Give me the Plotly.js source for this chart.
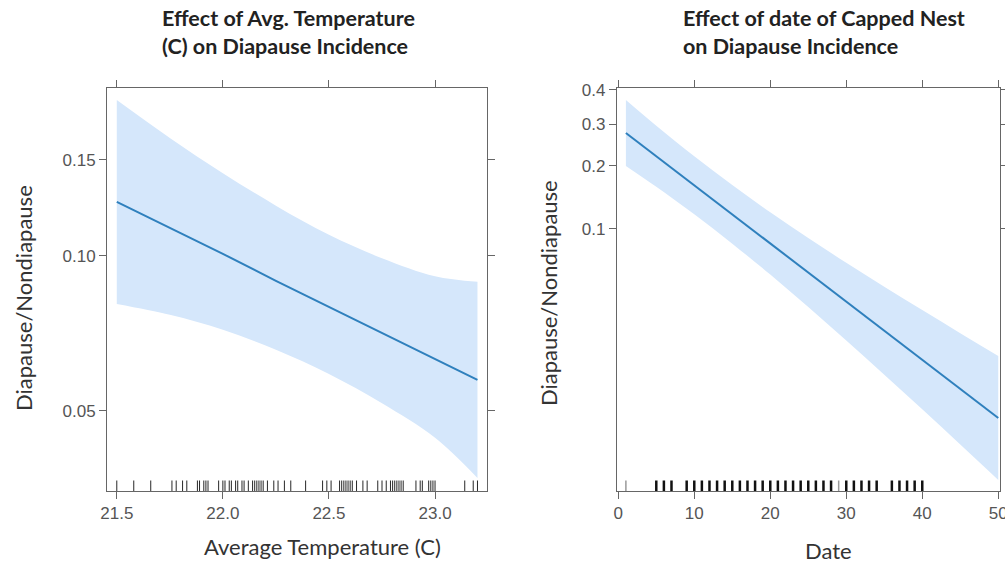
<!DOCTYPE html>
<html>
<head>
<meta charset="utf-8">
<script src="https://cdn.plot.ly/plotly-3.0.1.min.js"></script>
<style>html,body{margin:0;padding:0;background:#fff;}#chart{width:1005px;height:565px;}</style>
</head>
<body>
<div id="chart"></div>
<script>
// ---- Data ----
const tempX     = [21.5, 21.75, 22.0, 22.25, 22.5, 22.75, 23.0, 23.2];
const tempFit   = [0.126, 0.1128, 0.1009, 0.0897, 0.0800, 0.0712, 0.0634, 0.0576];
const tempUpper = [0.1906, 0.1640, 0.1420, 0.1240, 0.1095, 0.0990, 0.0915, 0.0893];
const tempLower = [0.0810, 0.0772, 0.0722, 0.0660, 0.0592, 0.0518, 0.0442, 0.0367];

const dateX     = [1, 5, 10, 15, 20, 25, 30, 35, 40, 45, 50];
const dateFit   = [0.2768, 0.2208, 0.1631, 0.1181, 0.0842, 0.0594, 0.0416, 0.0290, 0.0201, 0.0139, 0.00959];
const dateUpper = [0.3695, 0.2960, 0.2210, 0.1635, 0.1208, 0.0898, 0.0669, 0.0500, 0.0375, 0.0281, 0.0211];
const dateLower = [0.2000, 0.1603, 0.1181, 0.0840, 0.0580, 0.0389, 0.0256, 0.0166, 0.0107, 0.00682, 0.00433];

const rugTemp = [21.5, 21.58, 21.66, 21.76, 21.78, 21.81, 21.83, 21.88, 21.89, 21.91, 21.92, 21.93,
  21.98, 22.0, 22.01, 22.03, 22.04, 22.06, 22.07, 22.09, 22.1, 22.12, 22.14, 22.15, 22.16, 22.17,
  22.18, 22.19, 22.21, 22.24, 22.26, 22.29, 22.32, 22.39, 22.47, 22.49, 22.51, 22.55, 22.56, 22.57,
  22.58, 22.59, 22.6, 22.61, 22.63, 22.66, 22.68, 22.73, 22.75, 22.77, 22.79, 22.8, 22.81, 22.82,
  22.83, 22.84, 22.85, 22.91, 22.93, 22.94, 22.97, 22.98, 22.99, 23.0, 23.14, 23.18, 23.2];
const rugDate = [5, 6, 7, 9, 10, 11, 12, 13, 14, 15, 16, 17, 18, 19, 20, 21, 22, 23, 24, 25, 26, 27, 28,
  30, 31, 32, 33, 34, 36, 37, 38, 39, 40];
const rugDateFaint = [1, 29];

const tempTickVals = [0.05, 0.10, 0.15];
const tempTickText = ['0.05', '0.10', '0.15'];
const dateTickVals = [0.1, 0.2, 0.3, 0.4];
const dateTickText = ['0.1', '0.2', '0.3', '0.4'];
const tempXTicks = [21.5, 22.0, 22.5, 23.0];
const tempXTickText = ['21.5', '22.0', '22.5', '23.0'];
const dateXTicks = [0, 10, 20, 30, 40, 50];

const titleLeft = 'Effect of Avg. Temperature<br>(C) on Diapause Incidence';
const titleRight = 'Effect of date of Capped Nest<br>on Diapause Incidence';
const xTitleLeft = 'Average Temperature (C)';
const xTitleRight = 'Date';
const yTitle = 'Diapause/Nondiapause';

// ---- helpers ----
const logit = p => Math.log(p / (1 - p));
const L = arr => arr.map(logit);

const bandColor = 'rgb(213,231,251)';
const lineColor = 'rgb(47,128,189)';
const axisColor = '#666';
const tickFont = {family: 'Liberation Sans, Arial, sans-serif', size: 17, color: '#555'};
const textFont = {family: 'Lato, Carlito, sans-serif', size: 22, color: '#333'};

function band(xs, up, lo, xa, ya) {
  return [
    {x: xs, y: L(up), xaxis: xa, yaxis: ya, type: 'scatter', mode: 'lines',
     line: {width: 0, color: bandColor, shape: 'spline'}, hoverinfo: 'skip'},
    {x: xs, y: L(lo), xaxis: xa, yaxis: ya, type: 'scatter', mode: 'lines', fill: 'tonexty',
     fillcolor: bandColor, line: {width: 0, color: bandColor, shape: 'spline'}, hoverinfo: 'skip'}
  ];
}

const traces = [].concat(
  band(tempX, tempUpper, tempLower, 'x', 'y'),
  [{x: tempX, y: L(tempFit), xaxis: 'x', yaxis: 'y', type: 'scatter', mode: 'lines',
    line: {color: lineColor, width: 2}}],
  band(dateX, dateUpper, dateLower, 'x2', 'y2'),
  [{x: dateX, y: L(dateFit), xaxis: 'x2', yaxis: 'y2', type: 'scatter', mode: 'lines',
    line: {color: lineColor, width: 2}}]
);

const shapes = [];
rugTemp.forEach(v => shapes.push({type: 'line', xref: 'x', yref: 'y domain', x0: v, x1: v, y0: 0, y1: 0.026,
  line: {color: 'rgba(0,0,0,0.85)', width: 1}}));
rugDate.forEach(v => shapes.push({type: 'line', xref: 'x2', yref: 'y2 domain', x0: v, x1: v, y0: 0, y1: 0.026,
  line: {color: '#111', width: 2.5}}));
rugDateFaint.forEach(v => shapes.push({type: 'line', xref: 'x2', yref: 'y2 domain', x0: v, x1: v, y0: 0, y1: 0.026,
  line: {color: '#999', width: 1.5}}));

const axisCommon = {showline: true, linecolor: axisColor, linewidth: 1, mirror: 'ticks',
  ticks: 'outside', ticklen: 7, tickcolor: axisColor, tickwidth: 1, showgrid: false, zeroline: false,
  tickfont: tickFont, fixedrange: true, ticklabeloverflow: 'allow'};

const layout = {
  width: 1005, height: 565, paper_bgcolor: '#fff', plot_bgcolor: '#fff',
  margin: {l: 0, r: 0, t: 0, b: 0}, showlegend: false,
  xaxis: Object.assign({}, axisCommon, {domain: [0.1065, 0.4846], range: [21.454, 23.245],
    tickvals: tempXTicks, ticktext: tempXTickText, anchor: 'y'}),
  yaxis: Object.assign({}, axisCommon, {domain: [0.131, 0.8443], range: [-3.33, -1.388],
    tickvals: L(tempTickVals), ticktext: tempTickText, anchor: 'x'}),
  xaxis2: Object.assign({}, axisCommon, {domain: [0.6137, 0.9948], range: [-0.2, 50.2],
    tickvals: dateXTicks, anchor: 'y2'}),
  yaxis2: Object.assign({}, axisCommon, {domain: [0.131, 0.8443], range: [-5.58, -0.38],
    tickvals: L(dateTickVals), ticktext: dateTickText, anchor: 'x2'}),
  shapes: shapes,
  annotations: [
    {text: titleLeft, xref: 'paper', yref: 'paper', x: 0.1592, y: 0.943, xanchor: 'left', yanchor: 'middle',
     align: 'left', showarrow: false, font: Object.assign({}, textFont, {size: 21.5, color: '#222', weight: 'bold'})},
    {text: titleRight, xref: 'paper', yref: 'paper', x: 0.6776, y: 0.943, xanchor: 'left', yanchor: 'middle',
     align: 'left', showarrow: false, font: Object.assign({}, textFont, {size: 21.5, color: '#222', weight: 'bold'})},
    {text: xTitleLeft, xref: 'paper', yref: 'paper', x: 0.3204, y: 0.0319, xanchor: 'center', yanchor: 'middle',
     showarrow: false, font: textFont},
    {text: xTitleRight, xref: 'paper', yref: 'paper', x: 0.8239, y: 0.0248, xanchor: 'center', yanchor: 'middle',
     showarrow: false, font: textFont},
    {text: yTitle, xref: 'paper', yref: 'paper', x: 0.0239, y: 0.4726, xanchor: 'center', yanchor: 'middle',
     textangle: -90, showarrow: false, font: textFont},
    {text: yTitle, xref: 'paper', yref: 'paper', x: 0.5453, y: 0.4814, xanchor: 'center', yanchor: 'middle',
     textangle: -90, showarrow: false, font: textFont}
  ]
};

Plotly.newPlot('chart', traces, layout, {displayModeBar: false, staticPlot: true});
</script>
</body>
</html>
